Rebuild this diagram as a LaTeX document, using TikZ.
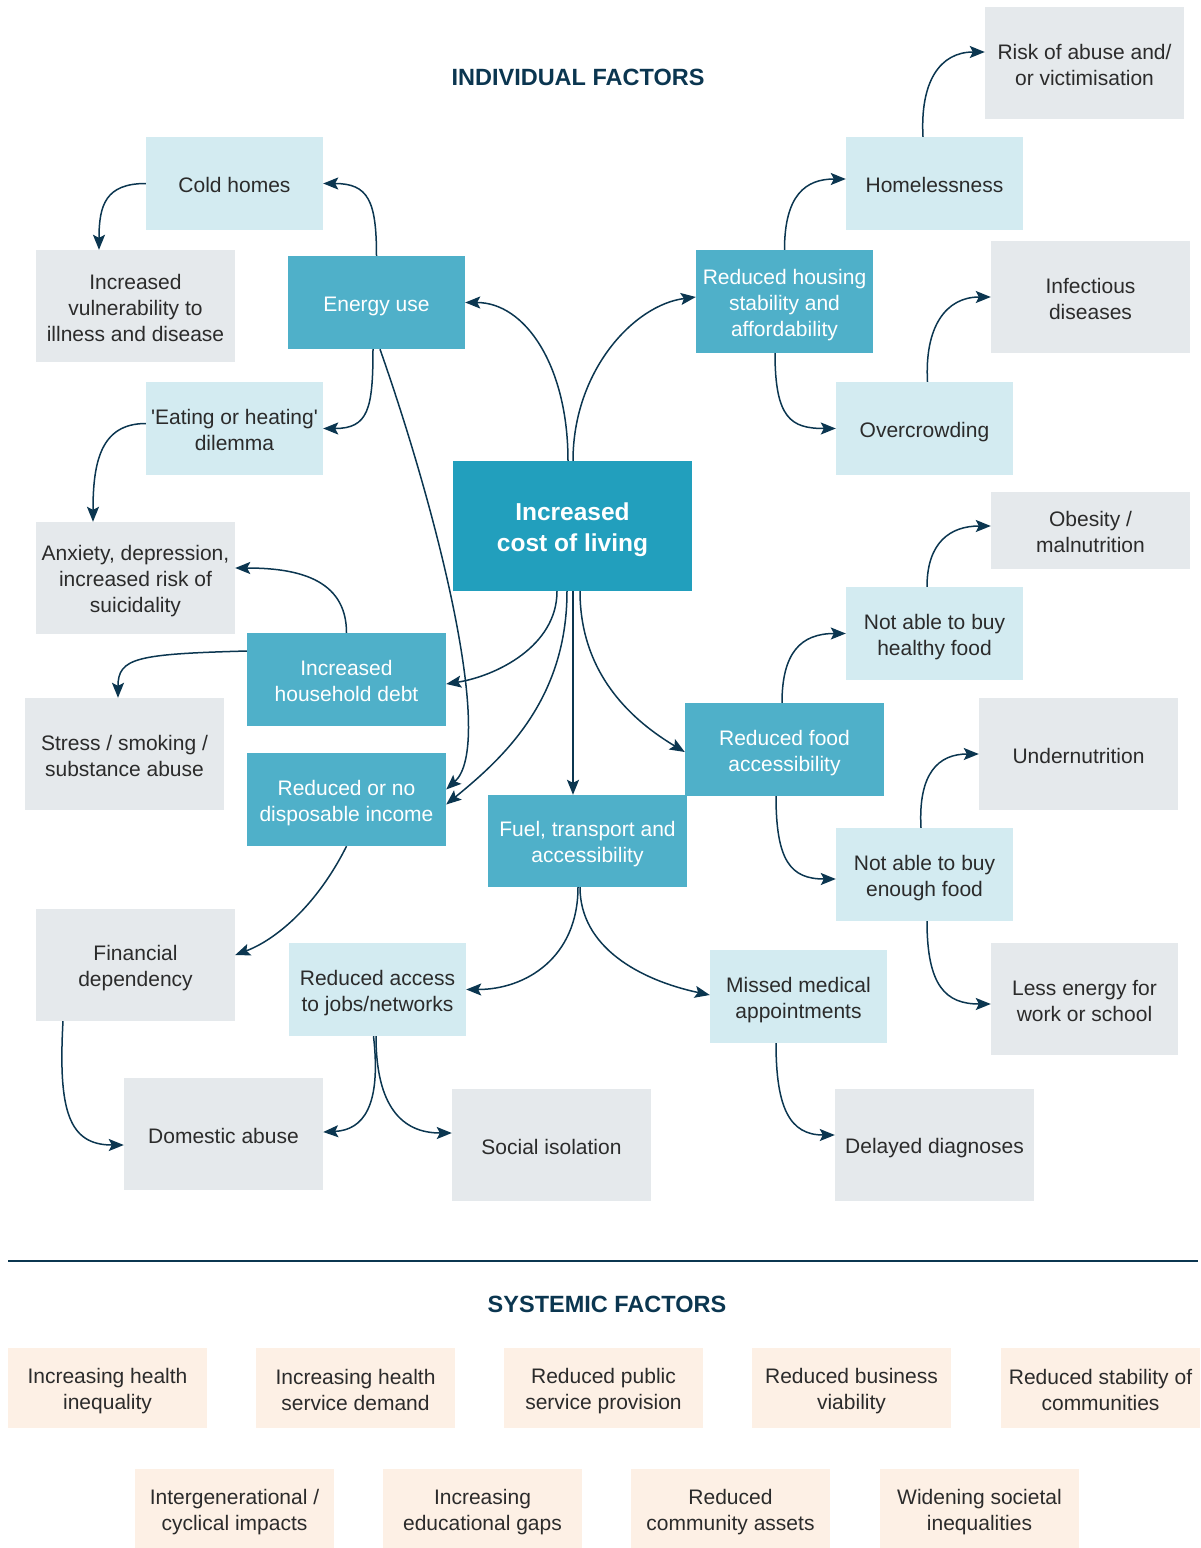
\documentclass[tikz,border=0pt]{standalone}
\usepackage{fontspec}
\setmainfont{Liberation Sans}[Ligatures=TeXOff]
\usetikzlibrary{arrows.meta}
\definecolor{cmain}{HTML}{229FBD}
\definecolor{cmid}{HTML}{4FB0C9}
\definecolor{clight}{HTML}{D3EBF1}
\definecolor{cgrey}{HTML}{E5E9EC}
\definecolor{cpeach}{HTML}{FDF0E5}
\definecolor{navy}{HTML}{0B3650}
\definecolor{txt}{HTML}{2B2B2B}
\newcommand\T{\rule{0pt}{1.06em}}
\newcommand\bothold{\rule[-0.18em]{0pt}{0.18em}}
\tikzset{
  base/.style={rectangle, inner sep=0pt, align=center, text=txt,
    font=\fontsize{21}{26}\selectfont,
    execute at end node={\bothold}},
  sz/.style 2 args={minimum width=#1pt, minimum height=#2pt},
  corebox/.style={base, fill=cmain, text=white,
    font=\fontsize{24.5}{31}\selectfont\bfseries},
  midbox/.style={base, fill=cmid, text=white},
  lightbox/.style={base, fill=clight},
  greybox/.style={base, fill=cgrey},
  peachbox/.style={base, fill=cpeach, sz={199}{80}},
  heading/.style={text=navy, font=\fontsize{23.5}{28}\selectfont\bfseries},
  arr/.style={draw=navy, line width=1.5pt,
    -{Stealth[length=15pt,width=12pt,inset=3pt]}},
}
\begin{document}
\begin{tikzpicture}[x=1pt,y=-1pt]
\useasboundingbox (0,0) rectangle (1200,1548);

\node[heading] (t1) at (578,77) {INDIVIDUAL FACTORS};
\node[heading] (t2) at (607,1304) {SYSTEMIC FACTORS};
\coordinate (la) at (8,1261);
\coordinate (lb) at (1198,1261);
\draw[navy, line width=1.3pt] (la) -- (lb);

% core
\node[corebox, sz={239}{130}] (cl) at (572.5,526) {\T Increased\\cost of living};

% mid teal
\node[midbox, sz={177}{93}]  (en) at (376.5,302.5) {\T Energy use};
\node[midbox, sz={177}{103}] (hs) at (784.5,301.5) {\T Reduced housing\\stability and\\affordability};
\node[midbox, sz={199}{93}]  (db) at (346.5,679.5) {\T Increased\\household debt};
\node[midbox, sz={199}{93}]  (di) at (346.5,799.5) {\T Reduced or no\\disposable income};
\node[midbox, sz={199}{92}]  (fu) at (587.5,841) {\T Fuel, transport and\\accessibility};
\node[midbox, sz={199}{93}]  (fo) at (784.5,749.5) {\T Reduced food\\accessibility};

% light
\node[lightbox, sz={177}{93}] (co) at (234.5,183.5) {\T Cold homes};
\node[lightbox, sz={177}{93}] (eh) at (234.5,428.5) {\T 'Eating or heating'\\dilemma};
\node[lightbox, sz={177}{93}] (ho) at (934.5,183.5) {\T Homelessness};
\node[lightbox, sz={177}{93}] (ov) at (924.5,428.5) {\T Overcrowding};
\node[lightbox, sz={177}{93}] (hf) at (934.5,633.5) {\T Not able to buy\\healthy food};
\node[lightbox, sz={177}{93}] (ef) at (924.5,874.5) {\T Not able to buy\\enough food};
\node[lightbox, sz={177}{93}] (ra) at (377.5,989.5) {\T Reduced access\\to jobs/networks};
\node[lightbox, sz={177}{93}] (mm) at (798.5,996.5) {\T Missed medical\\appointments};

% grey
\node[greybox, sz={199}{112}] (iv) at (135.5,306) {\T Increased\\vulnerability to\\illness and disease};
\node[greybox, sz={199}{112}] (an) at (135.5,578) {\T Anxiety, depression,\\increased risk of\\suicidality};
\node[greybox, sz={199}{112}] (st) at (124.5,754) {\T Stress / smoking /\\substance abuse};
\node[greybox, sz={199}{112}] (fd) at (135.5,965) {\T Financial\\dependency};
\node[greybox, sz={199}{112}] (da) at (223.5,1134) {\T Domestic abuse};
\node[greybox, sz={199}{112}] (si) at (551.5,1145) {\T Social isolation};
\node[greybox, sz={199}{112}] (dd) at (934.5,1145) {\T Delayed diagnoses};
\node[greybox, sz={199}{112}] (ri) at (1084.5,63) {\T Risk of abuse and/\\or victimisation};
\node[greybox, sz={199}{112}] (in) at (1090.5,297) {\T Infectious\\diseases};
\node[greybox, sz={199}{77}]  (ob) at (1090.5,530.5) {\T Obesity /\\malnutrition};
\node[greybox, sz={199}{112}] (un) at (1078.5,754) {\T Undernutrition};
\node[greybox, sz={187}{112}] (le) at (1084.5,999) {\T Less energy for\\work or school};

% peach
\node[peachbox] (p1) at (107.5,1388) {\T Increasing health\\inequality};
\node[peachbox] (p2) at (355.5,1388) {\T Increasing health\\service demand};
\node[peachbox] (p3) at (603.5,1388) {\T Reduced public\\service provision};
\node[peachbox] (p4) at (851.5,1388) {\T Reduced business\\viability};
\node[peachbox] (p5) at (1100.5,1388) {\T Reduced stability of\\communities};
\node[peachbox] (p6) at (234.5,1508.5) {\T Intergenerational /\\cyclical impacts};
\node[peachbox] (p7) at (482.5,1508.5) {\T Increasing\\educational gaps};
\node[peachbox] (p8) at (730.5,1508.5) {\T Reduced\\community assets};
\node[peachbox] (p9) at (979.5,1508.5) {\T Widening societal\\inequalities};

% connectors from core
\draw[arr] ([xshift=-4.5pt]cl.north) .. controls +(0,-95) and +(60,0) .. (en.east);
\draw[arr] ([xshift=0.5pt]cl.north) .. controls +(0,-90) and +(-62,8) .. ([yshift=4.5pt]hs.west);
\draw[arr] ([xshift=-15.5pt]cl.south) .. controls +(0,55) and +(50,-8) .. ([yshift=-4.5pt]db.east);
\draw[arr] ([xshift=-5.5pt]cl.south) .. controls +(0,110) and +(55,-45) .. ([yshift=-5pt]di.east);
\draw[arr] ([xshift=0.5pt]cl.south) -- ([xshift=-14.5pt]fu.north);
\draw[arr] ([xshift=7.5pt]cl.south) .. controls +(0,85) and +(-50,-30) .. ([yshift=-2.5pt]fo.west);

% left side
\draw[arr] (en.north) .. controls +(0,-55) and +(45,0) .. (co.east);
\draw[arr] ([xshift=-3.5pt]en.south) .. controls +(0,60) and +(45,0) .. (eh.east);
\draw[arr] ([xshift=3.5pt]en.south) .. controls (440,520) and (495,745) .. ([yshift=10pt]di.east);
\draw[arr] (co.west) .. controls +(-40,0) and +(0,-45) .. ([xshift=-36.5pt]iv.north);
\draw[arr] ([yshift=5pt]eh.west) .. controls +(-45,0) and +(0,-60) .. ([xshift=-42.5pt]an.north);
\draw[arr] (db.north) .. controls +(0,-55) and +(60,0) .. ([yshift=10pt]an.east);
\draw[arr] ([yshift=28.5pt]db.west) .. controls +(-110,3) and +(0,-40) .. ([xshift=-6.5pt]st.north);
\draw[arr] (di.south) .. controls +(-30,60) and +(40,-15) .. ([yshift=10pt]fd.east);
\draw[arr] ([xshift=-72.5pt]fd.south) .. controls +(-5,90) and +(-55,0) .. ([yshift=-11pt]da.west);
\draw[arr] ([xshift=-4pt]ra.south) .. controls +(8,70) and +(40,-2) .. ([yshift=2pt]da.east);
\draw[arr] ([xshift=-1.5pt]ra.south) .. controls +(0,70) and +(-50,0) .. ([yshift=12pt]si.west);
\draw[arr] ([xshift=-9.5pt]fu.south) .. controls +(0,70) and +(60,0) .. (ra.east);
\draw[arr] ([xshift=-7.5pt]fu.south) .. controls +(0,60) and +(-70,-15) .. ([yshift=1.5pt]mm.west);
\draw[arr] ([xshift=-22.5pt]mm.south) .. controls +(0,65) and +(-45,0) .. ([yshift=10pt]dd.west);

% right side
\draw[arr] (hs.north) .. controls +(0,-55) and +(-40,0) .. ([yshift=4.5pt]ho.west);
\draw[arr] ([xshift=-11.5pt]ho.north) .. controls +(-3,-55) and +(-45,0) .. ([yshift=11pt]ri.west);
\draw[arr] ([xshift=-9.5pt]hs.south) .. controls +(0,65) and +(-45,0) .. (ov.west);
\draw[arr] ([xshift=3pt]ov.north) .. controls +(-3,-55) and +(-45,0) .. (in.west);
\draw[arr] ([xshift=-2.5pt]fo.north) .. controls +(0,-50) and +(-45,0) .. (hf.west);
\draw[arr] ([xshift=-7.5pt]hf.north) .. controls +(0,-45) and +(-40,0) .. ([yshift=4.5pt]ob.west);
\draw[arr] ([xshift=-8.5pt]fo.south) .. controls +(0,65) and +(-45,0) .. ([yshift=-4.5pt]ef.west);
\draw[arr] ([xshift=-3.5pt]ef.north) .. controls +(-3,-55) and +(-40,0) .. (un.west);
\draw[arr] ([xshift=2.5pt]ef.south) .. controls +(0,65) and +(-45,0) .. ([yshift=-5pt]le.west);
\end{tikzpicture}
\end{document}
